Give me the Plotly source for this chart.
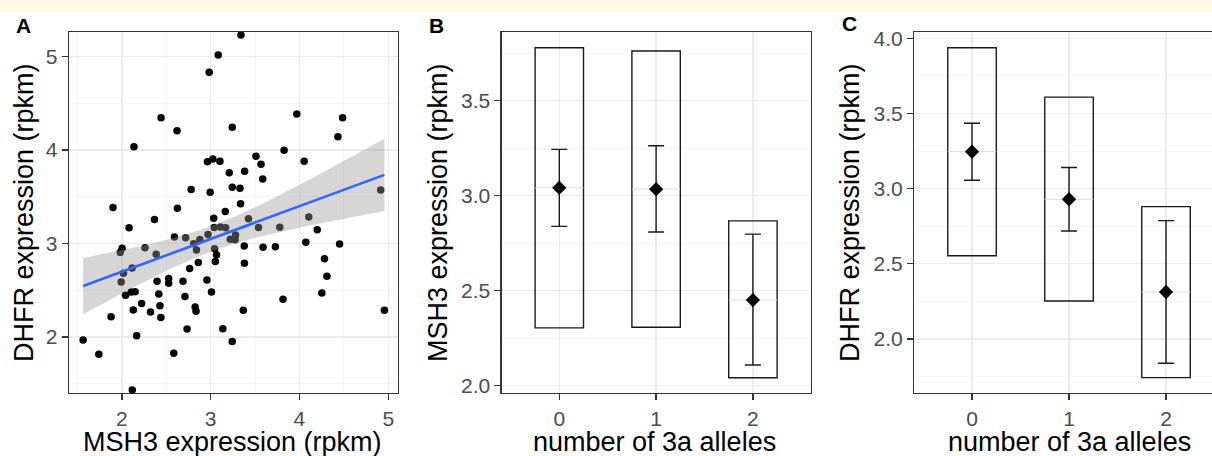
import numpy as np
import plotly.graph_objects as go

# ---------------- data ----------------
msh3 = [3.341, 3.085, 2.983, 2.441, 2.621, 3.243, 2.136, 3.970, 4.486, 4.433,
        3.827, 4.053, 3.510, 3.567, 3.586, 3.382, 3.209, 2.964, 3.024, 3.104,
        2.994, 2.780, 3.243, 3.330, 3.337, 3.164, 2.625, 1.900, 2.367, 3.034,
        3.426, 2.081, 3.040, 3.110, 3.168, 3.539, 3.778, 4.105, 4.200, 2.970,
        2.592, 2.718, 2.878, 3.220, 3.275, 3.280, 4.072, 4.452, 3.729, 3.590,
        3.378, 2.002, 1.981, 2.260, 2.386, 2.808, 2.840, 3.044, 3.066, 3.052,
        2.861, 2.763, 3.380, 4.282, 4.309, 4.252, 3.815, 3.367, 4.957, 4.915,
        2.115, 2.018, 1.992, 2.396, 2.527, 2.527, 2.688, 2.958, 2.710, 3.009,
        2.041, 2.105, 2.149, 2.415, 2.222, 2.428, 2.322, 2.128, 2.825, 2.835,
        2.439, 1.878, 2.166, 2.734, 3.137, 3.243, 1.563, 1.740, 2.584, 2.117]
dhfr = [5.232, 5.018, 4.832, 4.347, 4.208, 4.244, 4.037, 4.386, 4.347, 4.144,
        3.998, 3.880, 3.933, 3.848, 3.691, 3.773, 3.758, 3.876, 3.905, 3.880,
        3.548, 3.577, 3.601, 3.591, 3.425, 3.343, 3.377, 3.386, 3.257, 3.270,
        3.266, 3.168, 3.172, 3.176, 3.168, 3.172, 3.173, 3.284, 3.148, 3.097,
        3.070, 3.061, 3.042, 3.045, 3.040, 3.090, 3.013, 2.995, 2.966, 2.960,
        2.974, 2.949, 2.904, 2.954, 2.884, 2.997, 2.931, 2.944, 2.880, 2.808,
        2.797, 2.733, 2.788, 2.838, 2.649, 2.471, 2.403, 2.285, 2.285, 3.573,
        2.737, 2.681, 2.588, 2.596, 2.626, 2.575, 2.596, 2.610, 2.432, 2.481,
        2.446, 2.481, 2.485, 2.460, 2.358, 2.333, 2.267, 2.289, 2.320, 2.276,
        2.207, 2.215, 2.014, 2.085, 2.089, 1.950, 1.968, 1.814, 1.825, 1.432]

alleles = [0, 1, 2]
allele_labels = ["0", "1", "2"]

# Panel B: MSH3 by number of 3a alleles
b_box_low = [2.305, 2.308, 2.042]
b_box_high = [3.779, 3.762, 2.868]
b_mean = [3.042, 3.035, 2.451]
b_ci_low = [2.839, 2.809, 2.109]
b_ci_high = [3.244, 3.263, 2.798]

# Panel C: DHFR by number of 3a alleles
c_box_low = [2.553, 2.252, 1.742]
c_box_high = [3.937, 3.609, 2.880]
c_mean = [3.246, 2.929, 2.312]
c_ci_low = [3.056, 2.718, 1.838]
c_ci_high = [3.435, 3.140, 2.787]

A_xticks = [2, 3, 4, 5]
A_yticks = [2, 3, 4, 5]
B_yticks = [2.0, 2.5, 3.0, 3.5]
C_yticks = [2.0, 2.5, 3.0, 3.5, 4.0]

# ---------------- style ----------------
W, H = 1212, 456
FONT = "Liberation Sans, Arial, Helvetica, sans-serif"
TICKCOL = "#4D4D4D"
BORDER = "#333333"
GRID = "#EBEBEB"
MINOR = "#F2F2F2"
TICKFS = 21
TITLEFS = 27


def px_x(p):
    return p / W


def px_y(p):
    return 1 - p / H


fig = go.Figure()

# ---------------- panel A ----------------
fig.add_trace(go.Scatter(x=msh3, y=dhfr, mode="markers",
                         marker=dict(color="black", size=7.5),
                         xaxis="x", yaxis="y", showlegend=False, hoverinfo="x+y"))

# linear fit with 95% CI (as geom_smooth(method='lm'))
xa = np.array(msh3)
ya = np.array(dhfr)
n = len(xa)
slope, intercept = np.polyfit(xa, ya, 1)
xs = np.linspace(xa.min(), xa.max(), 80)
fit = intercept + slope * xs
resid = ya - (intercept + slope * xa)
s = np.sqrt(np.sum(resid ** 2) / (n - 2))
sxx = np.sum((xa - xa.mean()) ** 2)
se = s * np.sqrt(1.0 / n + (xs - xa.mean()) ** 2 / sxx)
tval = 1.9845
upper = fit + tval * se
lower = fit - tval * se

fig.add_trace(go.Scatter(x=np.concatenate([xs, xs[::-1]]),
                         y=np.concatenate([upper, lower[::-1]]),
                         fill="toself", fillcolor="rgba(153,153,153,0.4)",
                         line=dict(width=0), mode="lines",
                         xaxis="x", yaxis="y", showlegend=False, hoverinfo="skip"))
fig.add_trace(go.Scatter(x=xs, y=fit, mode="lines",
                         line=dict(color="#3366FF", width=2.6),
                         xaxis="x", yaxis="y", showlegend=False))


# ---------------- panels B and C ----------------
def add_group_panel(xax, yax, low, high, mean, cil, cih):
    fig.add_trace(go.Bar(x=alleles, y=[h - l for h, l in zip(high, low)], base=low,
                         width=0.5, marker=dict(color="rgba(0,0,0,0)",
                                                line=dict(color="#1a1a1a", width=1.4)),
                         xaxis=xax, yaxis=yax, showlegend=False, hoverinfo="skip"))
    mx, my = [], []
    for a, m in zip(alleles, mean):
        mx += [a - 0.25, a + 0.25, None]
        my += [m, m, None]
    fig.add_trace(go.Scatter(x=mx, y=my, mode="lines",
                             line=dict(color="#DDDDDD", width=1),
                             xaxis=xax, yaxis=yax, showlegend=False, hoverinfo="skip"))
    fig.add_trace(go.Scatter(x=alleles, y=mean, mode="markers",
                             marker=dict(symbol="diamond", size=11, color="black"),
                             error_y=dict(type="data", symmetric=False,
                                          array=[h - m for h, m in zip(cih, mean)],
                                          arrayminus=[m - l for m, l in zip(mean, cil)],
                                          color="#1a1a1a", thickness=1.4, width=8),
                             xaxis=xax, yaxis=yax, showlegend=False))


add_group_panel("x2", "y2", b_box_low, b_box_high, b_mean, b_ci_low, b_ci_high)
add_group_panel("x3", "y3", c_box_low, c_box_high, c_mean, c_ci_low, c_ci_high)

# ---------------- axes ----------------
ydom = [px_y(393), px_y(32)]
common = dict(showline=True, linecolor=BORDER, linewidth=1.3, ticks="outside",
              ticklen=6, tickwidth=1.3, tickcolor=BORDER, showgrid=True,
              gridcolor=GRID, gridwidth=1.4, zeroline=False,
              tickfont=dict(family=FONT, size=TICKFS, color=TICKCOL),
              automargin=False, fixedrange=True)

fig.update_layout(
    xaxis=dict(common, domain=[px_x(69), px_x(398)], range=[1.404, 5.11],
               tickvals=A_xticks, ticktext=[str(v) for v in A_xticks], mirror=True,
               minor=dict(dtick=0.5, tick0=0, showgrid=True, gridcolor=MINOR,
                          gridwidth=0.8, ticks=""),
               anchor="y"),
    yaxis=dict(common, domain=ydom, range=[1.40, 5.264],
               tickvals=A_yticks, ticktext=[str(v) for v in A_yticks], mirror=True,
               minor=dict(dtick=0.5, tick0=0, showgrid=True, gridcolor=MINOR,
                          gridwidth=0.8, ticks=""),
               anchor="x"),
    xaxis2=dict(common, domain=[px_x(501.7), px_x(811)], range=[-0.595, 2.6],
                tickvals=alleles, ticktext=allele_labels, mirror=True, anchor="y2"),
    yaxis2=dict(common, domain=ydom, range=[1.962, 3.862],
                tickvals=B_yticks, ticktext=[f"{v:.1f}" for v in B_yticks], mirror=True,
                minor=dict(dtick=0.25, tick0=0, showgrid=True, gridcolor=MINOR,
                           gridwidth=0.8, ticks=""),
                anchor="x2"),
    xaxis3=dict(common, domain=[px_x(914.3), 1.0], range=[-0.595, 2.474],
                tickvals=alleles, ticktext=allele_labels, mirror=True, anchor="y3"),
    yaxis3=dict(common, domain=ydom, range=[1.64, 4.042],
                tickvals=C_yticks, ticktext=[f"{v:.1f}" for v in C_yticks], mirror=False,
                minor=dict(dtick=0.25, tick0=0, showgrid=True, gridcolor=MINOR,
                           gridwidth=0.8, ticks=""),
                anchor="x3"),
    width=W, height=H, margin=dict(l=0, r=0, t=0, b=0, pad=0),
    paper_bgcolor="white", plot_bgcolor="white", barmode="overlay",
    font=dict(family=FONT),
)

# top pale band
fig.add_shape(type="rect", xref="paper", yref="paper", x0=0, x1=1,
              y0=px_y(12), y1=1, fillcolor="#FFF8E4", line=dict(width=0), layer="below")

# ---------------- texts ----------------
ann = []


def add_text(txt, x, y, size, bold=False, angle=0, color="black"):
    ann.append(dict(text=f"<b>{txt}</b>" if bold else txt, x=px_x(x), y=px_y(y),
                    xref="paper", yref="paper", showarrow=False, textangle=angle,
                    xanchor="center", yanchor="middle",
                    font=dict(family=FONT, size=size, color=color)))


add_text("A", 23, 26, 21, bold=True)
add_text("B", 436.5, 25.5, 21, bold=True)
add_text("C", 849.5, 24, 21, bold=True)

add_text("MSH3 expression (rpkm)", 232, 442, TITLEFS)
add_text("number of 3a alleles", 654, 442, TITLEFS)
add_text("number of 3a alleles", 1069.5, 442, TITLEFS)

add_text("DHFR expression (rpkm)", 24, 213, TITLEFS, angle=-90)
add_text("MSH3 expression (rpkm)", 438, 213, TITLEFS, angle=-90)
add_text("DHFR expression (rpkm)", 850, 213, TITLEFS, angle=-90)

fig.update_layout(annotations=ann)

fig.write_html("out.html",
               config={"displayModeBar": False, "staticPlot": True},
               post_script="document.body.style.margin='0';"
                           "document.body.style.overflow='hidden';")
